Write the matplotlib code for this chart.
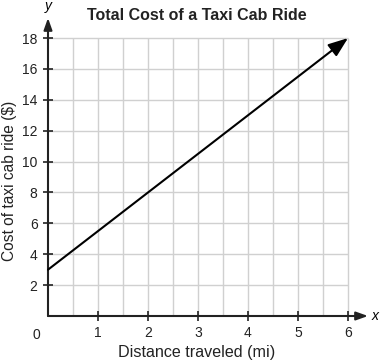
import matplotlib
matplotlib.use("Agg")
import matplotlib.pyplot as plt

# line data: cost = 3 + 2.5 * miles
miles = [0, 6]
cost = [3, 18]

x_ticks = [1, 2, 3, 4, 5, 6]
y_ticks = [2, 4, 6, 8, 10, 12, 14, 16, 18]
x_grid = [0.5, 1, 1.5, 2, 2.5, 3, 3.5, 4, 4.5, 5, 5.5, 6]

plt.rcParams["font.family"] = ["Liberation Sans", "DejaVu Sans"]

fig = plt.figure(figsize=(3.8, 3.63), dpi=100)
ax = fig.add_axes([48 / 380, 47 / 363, 320 / 380, 298 / 363])
ax.set_xlim(0, 6.4)
ax.set_ylim(0, 19.3)

grid_col = "#d0d0d0"
ax.vlines(x_grid, 0, 18, color=grid_col, linewidth=1, zorder=1)
ax.hlines(y_ticks, 0, 6, color=grid_col, linewidth=1, zorder=1)

for s in ax.spines.values():
    s.set_visible(False)

# axes with arrows
ax.annotate("", xy=(6.4, 0), xytext=(0, 0),
            arrowprops=dict(arrowstyle="-|>,head_length=0.7,head_width=0.25",
                            color="#222222", lw=1.5, shrinkA=0, shrinkB=0),
            annotation_clip=False, zorder=3)
ax.annotate("", xy=(0, 19.3), xytext=(0, 0),
            arrowprops=dict(arrowstyle="-|>,head_length=0.7,head_width=0.25",
                            color="#222222", lw=1.5, shrinkA=0, shrinkB=0),
            annotation_clip=False, zorder=3)

# cost line
ax.annotate("", xy=(miles[1], cost[1]), xytext=(miles[0], cost[0]),
            arrowprops=dict(arrowstyle="-|>,head_length=1.2,head_width=0.45",
                            color="black", lw=1.5, shrinkA=0, shrinkB=0),
            zorder=4)

ax.set_xticks(x_ticks)
ax.set_yticks(y_ticks)
ax.tick_params(direction="inout", length=7, width=1.2, color="#222222",
               labelsize=10, pad=4, labelcolor="#222222")
ax.text(-0.24, -0.75, "0", ha="center", va="top", fontsize=10, color="#222222")

ax.text(0, 19.6, "y", ha="center", va="bottom", fontsize=10, style="italic")
ax.text(6.55, 0, "x", ha="center", va="center", fontsize=10, style="italic")

fig.text(197 / 380, 1 - 15 / 363, "Total Cost of a Taxi Cab Ride",
         ha="center", va="center", fontsize=11.5, fontweight="bold", color="#222222")
fig.text(197 / 380, 1 - 352 / 363, "Distance traveled (mi)",
         ha="center", va="center", fontsize=11.6, color="#222222")
fig.text(10 / 380, 1 - 181 / 363, "Cost of taxi cab ride ($)",
         ha="center", va="center", fontsize=11.2, rotation=90, color="#222222")

fig.savefig("out.png", dpi=100)
